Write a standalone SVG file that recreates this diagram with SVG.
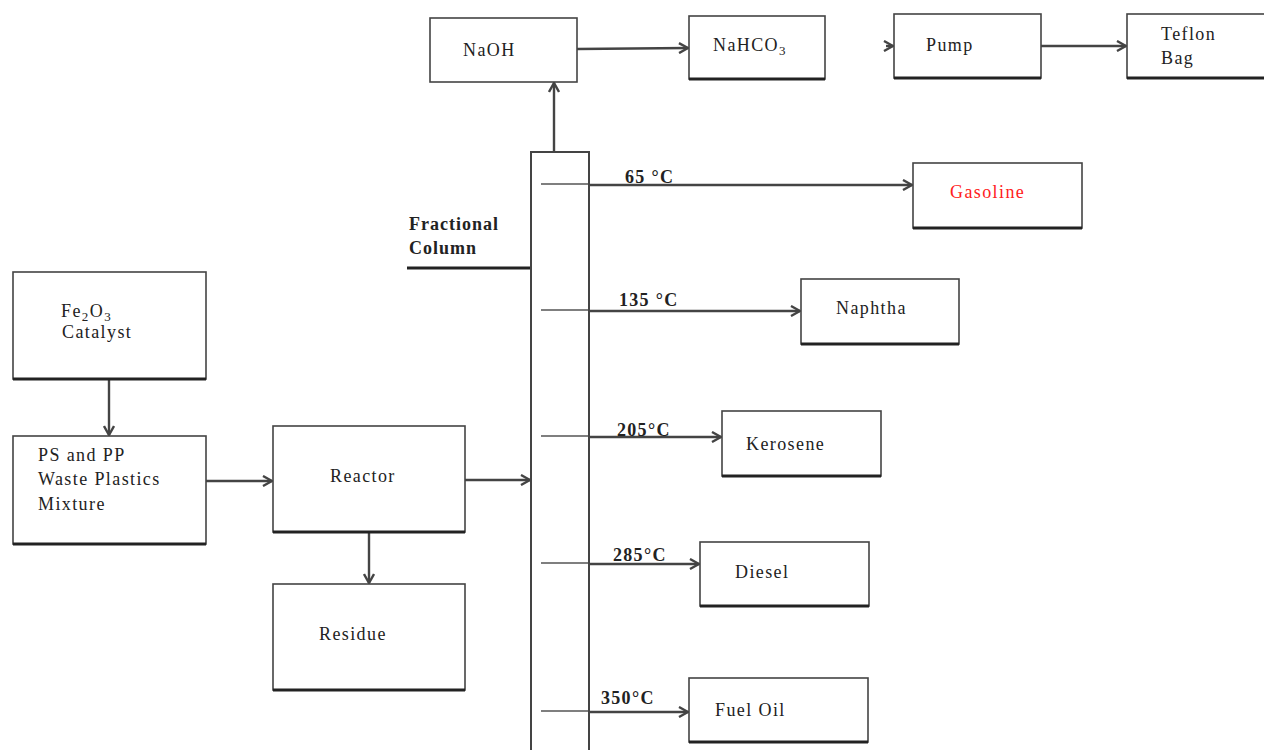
<svg xmlns="http://www.w3.org/2000/svg" width="1264" height="750" viewBox="0 0 1264 750">
<style>
.box{fill:#fff;stroke:#444;stroke-width:1.6}
.sh{stroke:#222;stroke-width:3;fill:none}
.t{font-family:"Liberation Serif","DejaVu Serif",serif;font-size:18px;fill:#222;letter-spacing:1.4px}
.b{font-family:"Liberation Serif","DejaVu Serif",serif;font-size:18px;font-weight:bold;fill:#222;letter-spacing:1px}
.tp{letter-spacing:1.3px}
.c{stroke:#444;stroke-width:2.4;fill:none}
.thin{stroke:#555;stroke-width:1.3;fill:none}
</style>
<defs>
<marker id="ah" viewBox="0 0 12 12" refX="11" refY="6" markerWidth="12" markerHeight="12" markerUnits="userSpaceOnUse" orient="auto">
<path d="M2,1 L11,6 L2,11" fill="none" stroke="#444" stroke-width="2.4"/>
</marker>
</defs>
<rect width="1264" height="750" fill="#fff"/>
<g id="connectors">
<line class="c" x1="554" y1="152" x2="554" y2="83" marker-end="url(#ah)"/>
<line class="c" x1="577" y1="49" x2="688" y2="48" marker-end="url(#ah)"/>
<line class="c" x1="886" y1="46" x2="893" y2="46" marker-end="url(#ah)"/>
<line class="c" x1="1041" y1="46" x2="1126" y2="46" marker-end="url(#ah)"/>
<line class="thin" x1="541" y1="184" x2="589" y2="184"/>
<line class="c" x1="589" y1="185" x2="912" y2="185" marker-end="url(#ah)"/>
<line class="thin" x1="541" y1="310" x2="589" y2="310"/>
<line class="c" x1="589" y1="311" x2="800" y2="311" marker-end="url(#ah)"/>
<line class="thin" x1="541" y1="436" x2="589" y2="436"/>
<line class="c" x1="589" y1="437" x2="721" y2="437" marker-end="url(#ah)"/>
<line class="thin" x1="541" y1="563" x2="589" y2="563"/>
<line class="c" x1="589" y1="564" x2="699" y2="564" marker-end="url(#ah)"/>
<line class="thin" x1="541" y1="711" x2="589" y2="711"/>
<line class="c" x1="589" y1="712" x2="688" y2="712" marker-end="url(#ah)"/>
<line class="c" x1="109" y1="379" x2="109" y2="435" marker-end="url(#ah)"/>
<line class="c" x1="206" y1="481" x2="272" y2="481" marker-end="url(#ah)"/>
<line class="c" x1="465" y1="480" x2="530" y2="480" marker-end="url(#ah)"/>
<line class="c" x1="369" y1="532" x2="369" y2="583" marker-end="url(#ah)"/>
<line stroke="#222" stroke-width="3" x1="407" y1="268" x2="531" y2="268"/>
</g>
<g id="column">
<rect x="531" y="152" width="58" height="610" fill="none" stroke="#444" stroke-width="2"/>
<text class="b" x="409" y="230">Fractional</text>
<text class="b" x="409" y="254">Column</text>
</g>
<g id="labels">
<text class="b tp" x="625" y="183">65 °C</text>
<text class="b tp" x="619" y="306">135 °C</text>
<text class="b tp" x="617" y="436">205°C</text>
<text class="b tp" x="613" y="561">285°C</text>
<text class="b tp" x="601" y="704">350°C</text>
</g>
<g id="naoh"><rect class="box" x="430" y="18" width="147" height="64"/><text class="t" x="463" y="56">NaOH</text></g>
<g id="nahco3"><rect class="box" x="689" y="16" width="136" height="63"/><line class="sh" x1="689" y1="79" x2="825" y2="79"/><text class="t" x="713" y="51">NaHCO<tspan font-size="13" dy="4">3</tspan></text></g>
<g id="pump"><rect class="box" x="894" y="14" width="147" height="64"/><line class="sh" x1="894" y1="78" x2="1041" y2="78"/><text class="t" x="926" y="51">Pump</text></g>
<g id="teflon"><rect class="box" x="1127" y="14" width="145" height="64"/><line class="sh" x1="1127" y1="78" x2="1264" y2="78"/><text class="t" x="1161" y="40">Teflon</text><text class="t" x="1161" y="64">Bag</text></g>
<g id="gasoline"><rect class="box" x="913" y="163" width="169" height="65"/><line class="sh" x1="913" y1="228" x2="1082" y2="228" stroke="#666"/><text class="t" x="950" y="198" style="fill:#ff2020">Gasoline</text></g>
<g id="naphtha"><rect class="box" x="801" y="279" width="158" height="65"/><line class="sh" x1="801" y1="344" x2="959" y2="344"/><text class="t" x="836" y="314">Naphtha</text></g>
<g id="kerosene"><rect class="box" x="722" y="411" width="159" height="65"/><line class="sh" x1="722" y1="476" x2="881" y2="476" stroke="#666"/><text class="t" x="746" y="450">Kerosene</text></g>
<g id="diesel"><rect class="box" x="700" y="542" width="169" height="64"/><line class="sh" x1="700" y1="606" x2="869" y2="606" stroke="#666"/><text class="t" x="735" y="578">Diesel</text></g>
<g id="fueloil"><rect class="box" x="689" y="678" width="179" height="64"/><line class="sh" x1="689" y1="742" x2="868" y2="742"/><text class="t" x="715" y="716">Fuel Oil</text></g>
<g id="catalyst"><rect class="box" x="13" y="272" width="193" height="107"/><line class="sh" x1="13" y1="379" x2="206" y2="379"/><text class="t" x="61" y="317">Fe<tspan font-size="13" dy="4">2</tspan><tspan dy="-4">O</tspan><tspan font-size="13" dy="4">3</tspan></text><text class="t" x="62" y="338">Catalyst</text></g>
<g id="mixture"><rect class="box" x="13" y="436" width="193" height="108"/><line class="sh" x1="13" y1="544" x2="206" y2="544" stroke="#666"/><text class="t" x="38" y="461">PS and PP</text><text class="t" x="38" y="485">Waste Plastics</text><text class="t" x="38" y="510">Mixture</text></g>
<g id="reactor"><rect class="box" x="273" y="426" width="192" height="106"/><line class="sh" x1="273" y1="532" x2="465" y2="532"/><text class="t" x="330" y="482">Reactor</text></g>
<g id="residue"><rect class="box" x="273" y="584" width="192" height="106"/><line class="sh" x1="273" y1="690" x2="465" y2="690"/><text class="t" x="319" y="640">Residue</text></g>
</svg>
